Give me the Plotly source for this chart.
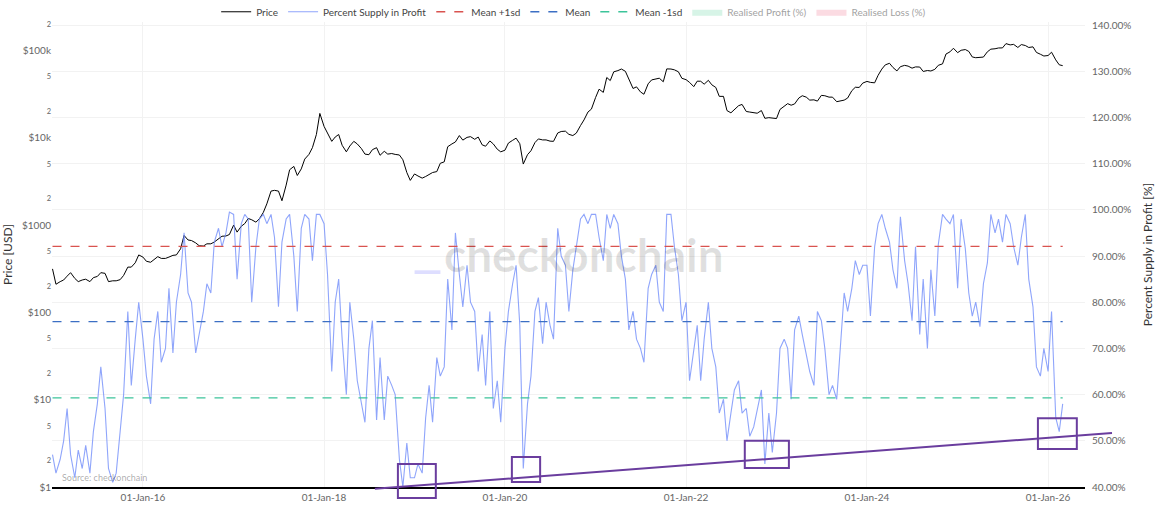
import pandas as pd
import plotly.graph_objects as go

# semi-monthly samples (1st and 16th of each month) starting Jan 2015
START = "2015-01-01"

supply_2015 = [47, 43, 46, 50, 57, 47, 42, 48, 44, 49, 43, 52, 58, 66, 57, 44, 41, 43, 52, 60, 78, 62, 72, 80]
supply_2016 = [72, 64, 58, 72, 78, 67, 70, 83, 69, 80, 86, 95, 82, 80, 69, 73, 78, 84, 82, 93, 96, 92, 95, 99.5]
supply_2017 = [99, 85, 97, 99, 98, 80, 92, 98, 99, 97, 99, 94, 79, 93, 98, 99, 90, 78, 96, 99, 98, 89, 99, 99]
supply_2018 = [97, 86, 65, 80, 85, 72, 60, 80, 72, 63, 58, 54, 70, 76, 54.5, 68, 54.5, 64, 62, 60, 46, 40, 49.5, 42]
supply_2019 = [42, 45, 43, 55, 62, 54, 68, 64, 66, 85, 74, 95, 86, 79, 88, 80, 78, 65, 73, 62, 78, 57, 63, 54]
supply_2020 = [70, 78, 84, 88, 75, 44, 58, 64, 78, 81, 71, 80, 75, 72, 96, 90, 88, 78, 87, 92, 98, 99, 97, 99]
supply_2021 = [99, 94, 89, 99, 96, 99, 97, 90, 85, 74, 78, 72, 70, 67, 83, 86, 88, 80, 78, 99, 99, 92, 86, 76]
supply_2022 = [80, 63, 70, 75, 63, 72, 80, 70, 66, 56, 59, 50, 56, 61, 63, 56, 57, 51, 53, 57, 61, 45, 56, 47.5]
supply_2023 = [56, 70, 72, 70, 59, 74, 77, 73, 69, 65, 62, 78, 76, 70, 60, 62, 59, 69, 82, 78, 83, 89, 86, 88]
supply_2024 = [88, 77, 92, 97, 99, 96, 93, 87, 83, 98.5, 89, 84, 76, 92, 73, 85, 70, 87, 77, 92.5, 99, 98, 97, 99]
supply_2025 = [83, 98, 91.6, 82, 77, 80, 74.7, 84, 88.5, 99, 95, 98, 93, 99, 97, 92, 88, 94, 99, 85, 79, 66, 64, 70]
supply_2026 = [65, 78, 55, 52, 58]

price_2015 = [315, 210, 225, 235, 260, 285, 245, 225, 235, 240, 225, 250, 258, 285, 280, 225, 230, 230, 237, 265, 330, 330, 370, 455]
price_2016 = [430, 385, 375, 405, 435, 415, 415, 430, 450, 455, 535, 760, 675, 665, 625, 580, 575, 610, 610, 640, 700, 745, 750, 780]
price_2017 = [1000, 830, 970, 1040, 1190, 1150, 1080, 1180, 1400, 1750, 2450, 2500, 2450, 1900, 2870, 4300, 4700, 3700, 4400, 5700, 6450, 7700, 10900, 19000]
price_2018 = [13500, 11300, 9100, 10200, 10900, 8200, 6900, 8050, 9100, 8500, 7500, 6500, 6400, 7300, 7700, 6300, 7000, 6500, 6600, 6450, 6350, 5600, 4000, 3250]
price_2019 = [3850, 3650, 3450, 3600, 3800, 4000, 4100, 5100, 5300, 7900, 8500, 8950, 10600, 9400, 10100, 10300, 9600, 10200, 8300, 8000, 9200, 8500, 7400, 6900]
price_2020 = [7200, 8700, 9350, 9900, 8550, 5000, 6400, 7100, 8800, 9700, 9450, 9450, 9150, 9100, 11350, 11800, 11900, 10950, 10600, 11300, 13800, 16000, 19700, 21300]
price_2021 = [29000, 36000, 33100, 49000, 45200, 56900, 58800, 61300, 57700, 46400, 36700, 38300, 33500, 31500, 41500, 46000, 47100, 48100, 43800, 61500, 61300, 60000, 57000, 48000]
price_2022 = [46300, 43100, 38500, 44500, 44400, 41100, 45500, 40400, 37700, 29800, 29800, 20500, 19300, 20800, 23300, 24100, 20000, 19700, 19400, 19100, 20500, 16700, 17000, 16800]
price_2023 = [16600, 21100, 23100, 24600, 23600, 24400, 28500, 30300, 29200, 27000, 27200, 26300, 30600, 30300, 29200, 29200, 25900, 26600, 27000, 28500, 34600, 37900, 37700, 42300]
price_2024 = [44200, 43100, 42600, 51900, 61200, 68400, 71300, 63800, 58300, 65200, 67500, 66200, 62700, 64800, 64600, 57500, 58900, 58200, 60800, 67600, 70200, 91000, 96400, 106000]
price_2025 = [94400, 100500, 102400, 97500, 84300, 82600, 82500, 84000, 96500, 103500, 104600, 106800, 107000, 119800, 115800, 117400, 108200, 116800, 114000, 108200, 110000, 95000, 90500, 86400]
price_2026 = [87500, 95500, 78000, 68500, 67000]

supply_pct = (supply_2015 + supply_2016 + supply_2017 + supply_2018 + supply_2019 + supply_2020
              + supply_2021 + supply_2022 + supply_2023 + supply_2024 + supply_2025 + supply_2026)
price_usd = (price_2015 + price_2016 + price_2017 + price_2018 + price_2019 + price_2020
             + price_2021 + price_2022 + price_2023 + price_2024 + price_2025 + price_2026)

MEAN_PLUS_SD = 92.1
MEAN = 75.8
MEAN_MINUS_SD = 59.3

# realised profit / loss series are switched off in the legend (no values shown)
realised_profit_pct = [None]
realised_loss_pct = [None]

# highlighted lows (drawn on top, partly outside the plot area)
box_dates = [("2018-10-26", "2019-03-28"), ("2020-01-29", "2020-05-22"),
             ("2022-08-26", "2023-02-20"), ("2025-11-21", "2026-04-27")]
box_pct = [(37.6, 45.0), (41.1, 46.5), (44.1, 50.0), (48.2, 54.9)]
trend_dates = ["2018-07-25", "2026-09-16"]
trend_pct = [39.6, 51.7]

X_RANGE = ["2014-12-30", "2026-05-30"]
Y2_RANGE = [40, 140.65]
Y_RANGE = [0, 5.326]

supply_dates = pd.date_range(START, periods=len(supply_pct), freq="SMS")
price_dates = pd.date_range(START, periods=len(price_usd), freq="SMS")

x0, x1 = pd.Timestamp(X_RANGE[0]), pd.Timestamp(X_RANGE[1])


def px(d):
    return (pd.Timestamp(d) - x0) / (x1 - x0)


def py(p):
    return (p - Y2_RANGE[0]) / (Y2_RANGE[1] - Y2_RANGE[0])


FONT = "Lato, 'Open Sans', sans-serif"
PURPLE = "#6a3d9e"

fig = go.Figure()
fig.add_trace(go.Scatter(x=price_dates, y=price_usd, name="Price", mode="lines",
                         line=dict(color="black", width=1)))
fig.add_trace(go.Scatter(x=supply_dates, y=supply_pct, name="Percent Supply in Profit", mode="lines",
                         line=dict(color="rgba(105,135,250,0.75)", width=1.1), yaxis="y2"))
span = [supply_dates[0], supply_dates[-1]]
fig.add_trace(go.Scatter(x=span, y=[MEAN_PLUS_SD] * 2, name="Mean +1sd", mode="lines",
                         line=dict(color="#d9534f", width=1.3, dash="dash"), yaxis="y2"))
fig.add_trace(go.Scatter(x=span, y=[MEAN] * 2, name="Mean", mode="lines",
                         line=dict(color="#3c6fc4", width=1.3, dash="dash"), yaxis="y2"))
fig.add_trace(go.Scatter(x=span, y=[MEAN_MINUS_SD] * 2, name="Mean -1sd", mode="lines",
                         line=dict(color="#3cc49a", width=1.3, dash="dash"), yaxis="y2"))
fig.add_trace(go.Scatter(x=supply_dates[:1], y=realised_profit_pct, name="Realised Profit (%)",
                         mode="lines", fill="tozeroy", line=dict(color="rgba(80,210,150,0.5)", width=0),
                         fillcolor="rgba(80,210,150,0.45)", yaxis="y2", visible="legendonly"))
fig.add_trace(go.Scatter(x=supply_dates[:1], y=realised_loss_pct, name="Realised Loss (%)",
                         mode="lines", fill="tozeroy", line=dict(color="rgba(240,100,130,0.5)", width=0),
                         fillcolor="rgba(240,100,130,0.45)", yaxis="y2", visible="legendonly"))

shapes = []
for (d0, d1), (p0, p1) in zip(box_dates, box_pct):
    shapes.append(dict(type="rect", xref="paper", yref="paper",
                       x0=px(d0), x1=px(d1), y0=py(p0), y1=py(p1),
                       line=dict(color=PURPLE, width=2)))
shapes.append(dict(type="line", xref="paper", yref="paper",
                   x0=px(trend_dates[0]), x1=px(trend_dates[1]),
                   y0=py(trend_pct[0]), y1=py(trend_pct[1]),
                   line=dict(color=PURPLE, width=2)))
# little logo bar next to the watermark
shapes.append(dict(type="rect", xref="paper", yref="paper", x0=0.351, x1=0.376, y0=0.458, y1=0.466,
                   fillcolor="rgba(160,160,255,0.35)", line=dict(width=0)))

fig.update_layout(
    width=1155, height=520,
    margin=dict(l=52, r=70, t=22, b=33, autoexpand=False),
    paper_bgcolor="white", plot_bgcolor="white",
    font=dict(family=FONT, size=11, color="#555"),
    showlegend=True,
    legend=dict(orientation="h", x=0.505, xanchor="center", y=1.022, yanchor="middle",
                font=dict(size=10, color="#444"), bgcolor="rgba(0,0,0,0)"),
    xaxis=dict(type="date", range=X_RANGE, tickformat="%d-%b-%y", dtick="M24", tick0="2016-01-01",
               showgrid=True, gridcolor="#f2f2f2", showline=True, linecolor="black", linewidth=1.5,
               ticks="", tickfont=dict(size=10, color="#666"), zeroline=False, automargin=False),
    yaxis=dict(type="log", range=Y_RANGE, dtick="D2", tickprefix="$", showgrid=False, zeroline=False,
               title=dict(text="Price [USD]", font=dict(size=12, color="#333"), standoff=6),
               tickfont=dict(size=10, color="#666"), automargin=False),
    yaxis2=dict(overlaying="y", side="right", range=Y2_RANGE, dtick=10, tick0=40,
                tickformat=".2f", ticksuffix="%", showgrid=True, gridcolor="#f2f2f2", zeroline=False,
                title=dict(text="Percent Supply in Profit [%]", font=dict(size=12, color="#333"), standoff=16),
                tickfont=dict(size=10, color="#666"), automargin=False, ticklabelstandoff=6),
    shapes=shapes,
    annotations=[
        dict(text="<b>checkonchain</b>", xref="paper", yref="paper", x=0.515, y=0.5,
             showarrow=False, font=dict(size=46, color="rgba(0,0,0,0.12)", family=FONT)),
        dict(text="Source: checkonchain", xref="paper", yref="paper", x=0.008, y=0.005,
             xanchor="left", yanchor="bottom", showarrow=False,
             font=dict(size=9, color="rgba(0,0,0,0.35)")),
    ],
)

# drop the default page margin so the figure sits at the window's corner
fig.write_html("out.html", config={"displayModeBar": False},
               post_script="document.body.style.margin='0';")
